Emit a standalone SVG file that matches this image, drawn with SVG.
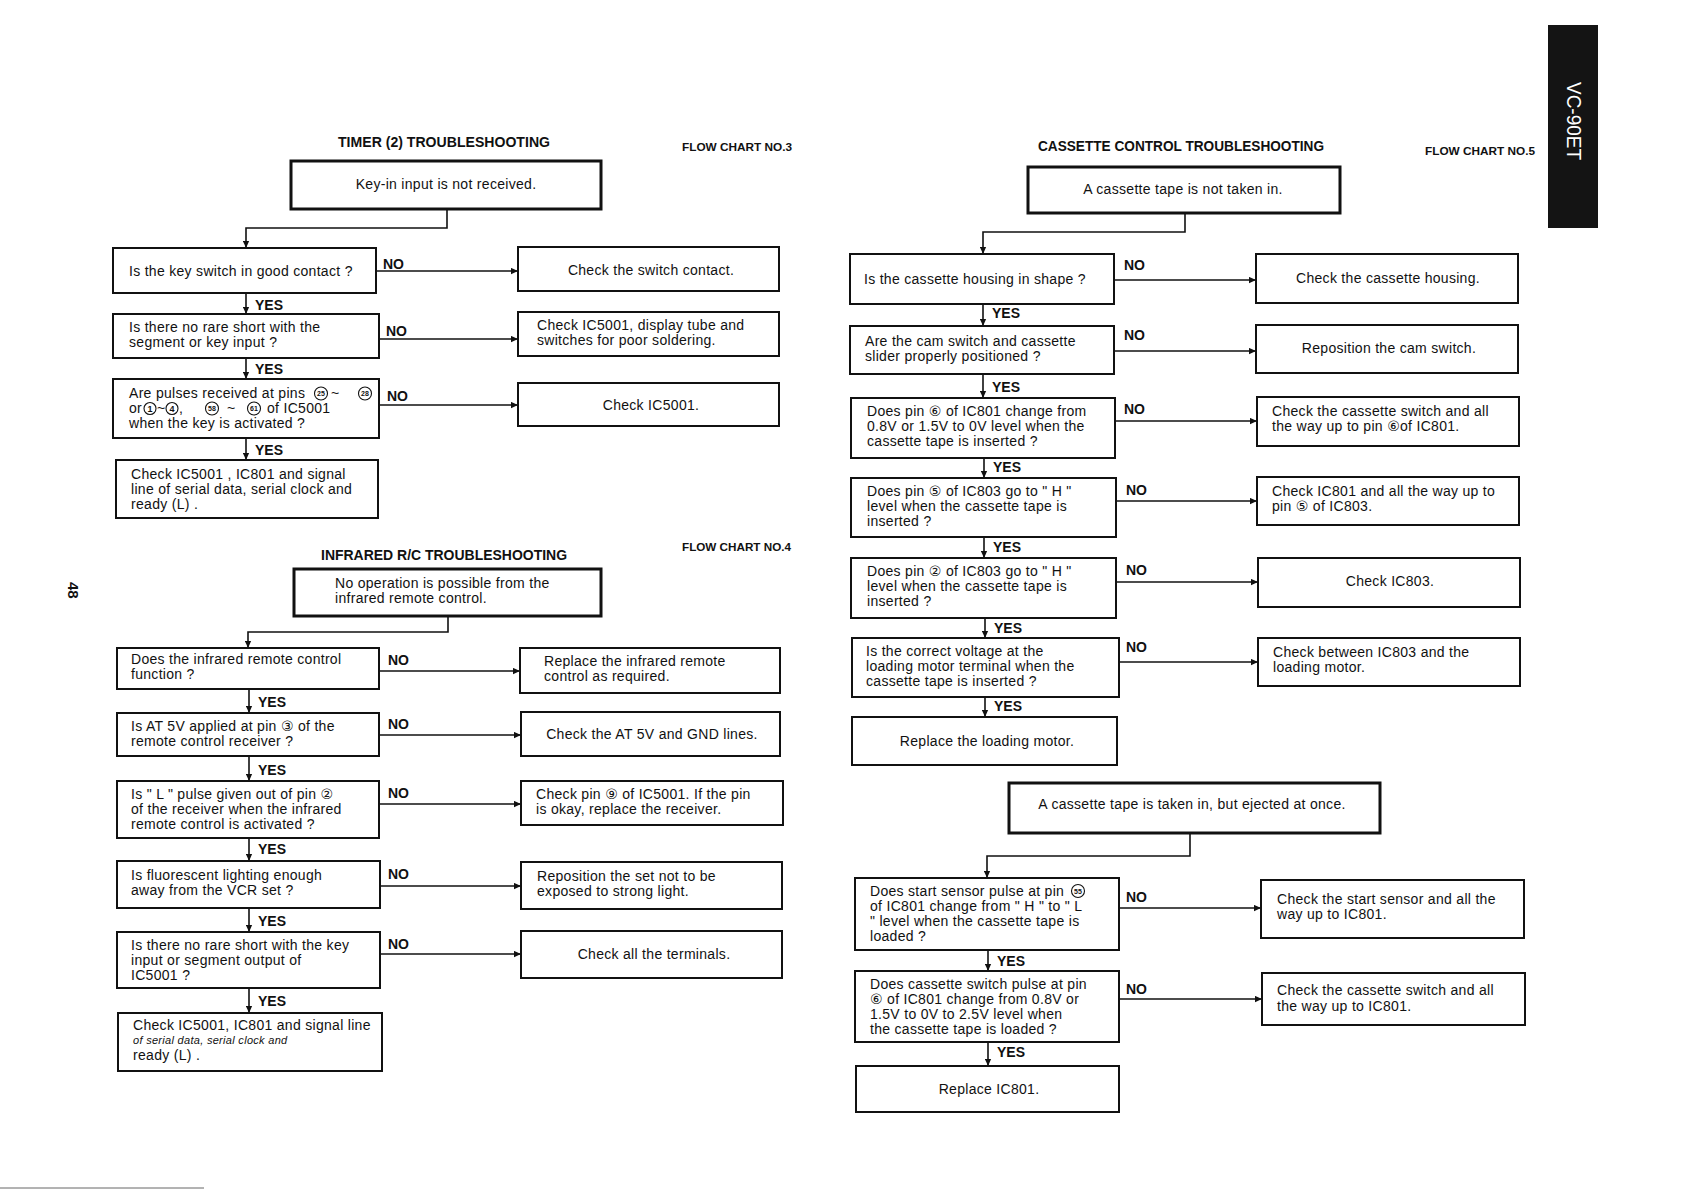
<svg xmlns="http://www.w3.org/2000/svg" width="1683" height="1191" viewBox="0 0 1683 1191">
<style>
.box{fill:#fff;stroke:#111;stroke-width:2}
.start{fill:#fff;stroke:#111;stroke-width:3}
.t{font-family:"Liberation Sans","DejaVu Sans","Noto Sans CJK JP",sans-serif;font-size:14px;letter-spacing:0.3px;fill:#111}
.m{text-anchor:middle}
.lbl{font-family:"Liberation Sans",sans-serif;font-size:14px;font-weight:bold;fill:#111}
.title{font-family:"Liberation Sans",sans-serif;font-size:15px;font-weight:bold;fill:#111;text-anchor:middle}
.fc{font-family:"Liberation Sans",sans-serif;font-size:11px;font-weight:bold;fill:#111}
.conn{fill:none;stroke:#111;stroke-width:1.6}
.circ{fill:none;stroke:#111;stroke-width:1.1}
.cn{font-family:"Liberation Sans",sans-serif;font-size:7px;font-weight:bold;fill:#111;text-anchor:middle}
.cn1{font-family:"Liberation Sans",sans-serif;font-size:9px;font-weight:bold;fill:#111;text-anchor:middle}
</style>
<defs>
<marker id="ah" viewBox="0 0 10 10" refX="10" refY="5" markerWidth="9" markerHeight="7" markerUnits="userSpaceOnUse" orient="auto">
<path d="M0,0.5 L10,5 L0,9.5 z" fill="#111"/>
</marker>
</defs>
<rect x="0" y="0" width="1683" height="1191" fill="#fff"/>

<!-- ===== Headings ===== -->
<g id="headings">
<text class="title" x="444" y="147" textLength="212" lengthAdjust="spacingAndGlyphs">TIMER (2) TROUBLESHOOTING</text>
<text class="fc" x="682" y="151" textLength="110" lengthAdjust="spacingAndGlyphs">FLOW CHART NO.3</text>
<text class="title" x="444" y="560" textLength="246" lengthAdjust="spacingAndGlyphs">INFRARED  R/C  TROUBLESHOOTING</text>
<text class="fc" x="682" y="551" textLength="109" lengthAdjust="spacingAndGlyphs">FLOW CHART NO.4</text>
<text class="title" x="1181" y="151" textLength="286" lengthAdjust="spacingAndGlyphs">CASSETTE  CONTROL  TROUBLESHOOTING</text>
<text class="fc" x="1425" y="155" textLength="110" lengthAdjust="spacingAndGlyphs">FLOW CHART NO.5</text>
</g>

<g id="tab">
<rect x="1548" y="25" width="50" height="203" fill="#141414"/>
<text x="1567" y="82" transform="rotate(90 1567 82)" font-family="Liberation Sans, sans-serif" font-size="21" fill="#fff" textLength="78" lengthAdjust="spacingAndGlyphs">VC-90ET</text>
</g>
<g id="page-number">
<text x="68" y="582" transform="rotate(90 68 582)" font-family="Liberation Sans, sans-serif" font-size="15" font-weight="bold" fill="#111">48</text>
</g>
<line x1="0" y1="1188" x2="204" y2="1188" stroke="#666" stroke-width="1"/>

<!-- ===== Connectors ===== -->
<g id="connectors">
<!-- chart 3 -->
<path class="conn" d="M447,209 V228 H246 V248" marker-end="url(#ah)"/>
<path class="conn" d="M376,271 H518" marker-end="url(#ah)"/>
<path class="conn" d="M246,293 V314" marker-end="url(#ah)"/>
<path class="conn" d="M379,339 H518" marker-end="url(#ah)"/>
<path class="conn" d="M246,358 V379" marker-end="url(#ah)"/>
<path class="conn" d="M379,405 H518" marker-end="url(#ah)"/>
<path class="conn" d="M246,438 V460" marker-end="url(#ah)"/>
<text class="lbl" x="383" y="269">NO</text>
<text class="lbl" x="386" y="336">NO</text>
<text class="lbl" x="387" y="401">NO</text>
<text class="lbl" x="255" y="310">YES</text>
<text class="lbl" x="255" y="374">YES</text>
<text class="lbl" x="255" y="455">YES</text>
<!-- chart 4 -->
<path class="conn" d="M448,616 V632 H248 V648" marker-end="url(#ah)"/>
<path class="conn" d="M379,671 H520" marker-end="url(#ah)"/>
<path class="conn" d="M249,689 V713" marker-end="url(#ah)"/>
<path class="conn" d="M379,735 H521" marker-end="url(#ah)"/>
<path class="conn" d="M249,756 V781" marker-end="url(#ah)"/>
<path class="conn" d="M379,804 H521" marker-end="url(#ah)"/>
<path class="conn" d="M249,838 V861" marker-end="url(#ah)"/>
<path class="conn" d="M380,886 H521" marker-end="url(#ah)"/>
<path class="conn" d="M249,908 V932" marker-end="url(#ah)"/>
<path class="conn" d="M380,954 H521" marker-end="url(#ah)"/>
<path class="conn" d="M249,988 V1013" marker-end="url(#ah)"/>
<text class="lbl" x="388" y="665">NO</text>
<text class="lbl" x="388" y="729">NO</text>
<text class="lbl" x="388" y="798">NO</text>
<text class="lbl" x="388" y="879">NO</text>
<text class="lbl" x="388" y="949">NO</text>
<text class="lbl" x="258" y="707">YES</text>
<text class="lbl" x="258" y="775">YES</text>
<text class="lbl" x="258" y="854">YES</text>
<text class="lbl" x="258" y="926">YES</text>
<text class="lbl" x="258" y="1006">YES</text>
<!-- chart 5 -->
<path class="conn" d="M1185,213 V232 H983 V254" marker-end="url(#ah)"/>
<path class="conn" d="M1114,280 H1256" marker-end="url(#ah)"/>
<path class="conn" d="M983,304 V326" marker-end="url(#ah)"/>
<path class="conn" d="M1114,351 H1256" marker-end="url(#ah)"/>
<path class="conn" d="M983,374 V398" marker-end="url(#ah)"/>
<path class="conn" d="M1115,421 H1257" marker-end="url(#ah)"/>
<path class="conn" d="M984,458 V478" marker-end="url(#ah)"/>
<path class="conn" d="M1116,501 H1257" marker-end="url(#ah)"/>
<path class="conn" d="M984,537 V558" marker-end="url(#ah)"/>
<path class="conn" d="M1116,582 H1258" marker-end="url(#ah)"/>
<path class="conn" d="M985,618 V638" marker-end="url(#ah)"/>
<path class="conn" d="M1119,662 H1258" marker-end="url(#ah)"/>
<path class="conn" d="M985,697 V717" marker-end="url(#ah)"/>
<text class="lbl" x="1124" y="270">NO</text>
<text class="lbl" x="1124" y="340">NO</text>
<text class="lbl" x="1124" y="414">NO</text>
<text class="lbl" x="1126" y="495">NO</text>
<text class="lbl" x="1126" y="575">NO</text>
<text class="lbl" x="1126" y="652">NO</text>
<text class="lbl" x="992" y="318">YES</text>
<text class="lbl" x="992" y="392">YES</text>
<text class="lbl" x="993" y="472">YES</text>
<text class="lbl" x="993" y="552">YES</text>
<text class="lbl" x="994" y="633">YES</text>
<text class="lbl" x="994" y="711">YES</text>
<!-- chart 5 bottom -->
<path class="conn" d="M1190,833 V856 H987 V878" marker-end="url(#ah)"/>
<path class="conn" d="M1119,908 H1261" marker-end="url(#ah)"/>
<path class="conn" d="M988,950 V971" marker-end="url(#ah)"/>
<path class="conn" d="M1119,999 H1262" marker-end="url(#ah)"/>
<path class="conn" d="M988,1042 V1066" marker-end="url(#ah)"/>
<text class="lbl" x="1126" y="902">NO</text>
<text class="lbl" x="1126" y="994">NO</text>
<text class="lbl" x="997" y="966">YES</text>
<text class="lbl" x="997" y="1057">YES</text>
</g>

<!-- ===== Chart 3 nodes ===== -->
<g id="t-start">
<rect class="start" x="291" y="161" width="310" height="48"/>
<text class="t m" x="446" y="189">Key-in  input is not received.</text>
</g>
<g id="t-q1">
<rect class="box" x="113" y="248" width="263" height="45"/>
<text class="t" x="129" y="276">Is  the key switch in good contact ?</text>
</g>
<g id="t-a1">
<rect class="box" x="518" y="247" width="261" height="44"/>
<text class="t m" x="651" y="275">Check  the switch contact.</text>
</g>
<g id="t-q2">
<rect class="box" x="113" y="314" width="266" height="44"/>
<text class="t"><tspan x="129" y="332">Is there no rare short with the</tspan><tspan x="129" y="347">segment or key input  ?</tspan></text>
</g>
<g id="t-a2">
<rect class="box" x="518" y="312" width="261" height="44"/>
<text class="t"><tspan x="537" y="330">Check   IC5001, display tube and</tspan><tspan x="537" y="345">switches for poor soldering.</tspan></text>
</g>
<g id="t-q3">
<rect class="box" x="113" y="379" width="266" height="59"/>
<text class="t" x="129" y="398">Are pulses received at pins</text>
<circle class="circ" cx="321" cy="393.5" r="6.5"/><text class="cn" x="321" y="396">25</text>
<text class="t" x="331" y="398">~</text>
<circle class="circ" cx="365" cy="393.5" r="6.5"/><text class="cn" x="365" y="396">28</text>
<text class="t" x="129" y="413">or</text>
<circle class="circ" cx="150" cy="408.5" r="6"/><text class="cn1" x="150" y="411.7">1</text>
<text class="t" x="157" y="413">~</text>
<circle class="circ" cx="172" cy="408.5" r="6"/><text class="cn1" x="172" y="411.7">4</text>
<text class="t" x="179" y="413">,</text>
<circle class="circ" cx="212" cy="408.5" r="6.5"/><text class="cn" x="212" y="411">58</text>
<text class="t" x="227" y="413">~</text>
<circle class="circ" cx="254" cy="408.5" r="6.5"/><text class="cn" x="254" y="411">61</text>
<text class="t" x="267" y="413">of  IC5001</text>
<text class="t" x="129" y="428">when the key is activated ?</text>
</g>
<g id="t-a3">
<rect class="box" x="518" y="383" width="261" height="43"/>
<text class="t m" x="651" y="410">Check  IC5001.</text>
</g>
<g id="t-end">
<rect class="box" x="116" y="460" width="262" height="58"/>
<text class="t"><tspan x="131" y="479">Check IC5001 , IC801 and signal</tspan><tspan x="131" y="494">line of serial data, serial clock and</tspan><tspan x="131" y="509">ready  (L) .</tspan></text>
</g>

<!-- ===== Chart 4 nodes ===== -->
<g id="i-start">
<rect class="start" x="294" y="569" width="307" height="47"/>
<text class="t"><tspan x="335" y="588">No operation is possible from the</tspan><tspan x="335" y="603">infrared  remote control.</tspan></text>
</g>
<g id="i-q1">
<rect class="box" x="117" y="648" width="262" height="41"/>
<text class="t"><tspan x="131" y="664">Does the infrared remote control</tspan><tspan x="131" y="679">function ?</tspan></text>
</g>
<g id="i-a1">
<rect class="box" x="520" y="648" width="260" height="45"/>
<text class="t"><tspan x="544" y="666">Replace the infrared remote</tspan><tspan x="544" y="681">control as required.</tspan></text>
</g>
<g id="i-q2">
<rect class="box" x="117" y="713" width="262" height="43"/>
<text class="t"><tspan x="131" y="731">Is  AT 5V applied at pin ③ of the</tspan><tspan x="131" y="746">remote control receiver ?</tspan></text>
</g>
<g id="i-a2">
<rect class="box" x="521" y="712" width="259" height="44"/>
<text class="t m" x="652" y="739">Check  the  AT 5V  and  GND  lines.</text>
</g>
<g id="i-q3">
<rect class="box" x="117" y="781" width="262" height="57"/>
<text class="t"><tspan x="131" y="799">Is " L " pulse given out of pin  ②</tspan><tspan x="131" y="814">of the receiver when the infrared</tspan><tspan x="131" y="829">remote control is activated ?</tspan></text>
</g>
<g id="i-a3">
<rect class="box" x="521" y="781" width="262" height="44"/>
<text class="t"><tspan x="536" y="799">Check pin ⑨ of  IC5001.  If the pin</tspan><tspan x="536" y="814">is okay, replace the receiver.</tspan></text>
</g>
<g id="i-q4">
<rect class="box" x="117" y="861" width="263" height="47"/>
<text class="t"><tspan x="131" y="880">Is fluorescent  lighting enough</tspan><tspan x="131" y="895">away from the VCR set ?</tspan></text>
</g>
<g id="i-a4">
<rect class="box" x="521" y="862" width="261" height="47"/>
<text class="t"><tspan x="537" y="881">Reposition the set not to be</tspan><tspan x="537" y="896">exposed to strong light.</tspan></text>
</g>
<g id="i-q5">
<rect class="box" x="117" y="932" width="263" height="56"/>
<text class="t"><tspan x="131" y="950">Is there no rare short with the key</tspan><tspan x="131" y="965">input or segment output of</tspan><tspan x="131" y="980">IC5001  ?</tspan></text>
</g>
<g id="i-a5">
<rect class="box" x="521" y="931" width="261" height="47"/>
<text class="t m" x="654" y="959">Check  all  the  terminals.</text>
</g>
<g id="i-end">
<rect class="box" x="118" y="1013" width="264" height="58"/>
<text class="t"><tspan x="133" y="1030">Check IC5001, IC801 and signal line</tspan><tspan x="133" y="1044" font-size="11" font-style="italic">of serial data, serial clock and</tspan><tspan x="133" y="1060">ready (L) .</tspan></text>
</g>

<!-- ===== Chart 5 nodes ===== -->
<g id="c-start">
<rect class="start" x="1028" y="167" width="312" height="46"/>
<text class="t m" x="1183" y="194">A cassette  tape  is not  taken  in.</text>
</g>
<g id="c-q1">
<rect class="box" x="850" y="254" width="264" height="50"/>
<text class="t" x="864" y="284">Is  the  cassette  housing  in  shape ?</text>
</g>
<g id="c-a1">
<rect class="box" x="1256" y="254" width="262" height="49"/>
<text class="t m" x="1388" y="283">Check  the  cassette  housing.</text>
</g>
<g id="c-q2">
<rect class="box" x="850" y="326" width="264" height="48"/>
<text class="t"><tspan x="865" y="346">Are the cam switch and cassette</tspan><tspan x="865" y="361">slider properly positioned ?</tspan></text>
</g>
<g id="c-a2">
<rect class="box" x="1256" y="325" width="262" height="48"/>
<text class="t m" x="1389" y="353">Reposition  the  cam  switch.</text>
</g>
<g id="c-q3">
<rect class="box" x="851" y="398" width="264" height="60"/>
<text class="t"><tspan x="867" y="416">Does pin  ⑥ of IC801 change from</tspan><tspan x="867" y="431">0.8V or 1.5V  to 0V level when the</tspan><tspan x="867" y="446">cassette tape is inserted ?</tspan></text>
</g>
<g id="c-a3">
<rect class="box" x="1257" y="397" width="262" height="49"/>
<text class="t"><tspan x="1272" y="416">Check the cassette switch and all</tspan><tspan x="1272" y="431">the way up to pin ⑥of  IC801.</tspan></text>
</g>
<g id="c-q4">
<rect class="box" x="851" y="478" width="265" height="59"/>
<text class="t"><tspan x="867" y="496">Does pin  ⑤ of  IC803  go  to  " H "</tspan><tspan x="867" y="511">level  when the cassette tape is</tspan><tspan x="867" y="526">inserted ?</tspan></text>
</g>
<g id="c-a4">
<rect class="box" x="1257" y="477" width="262" height="48"/>
<text class="t"><tspan x="1272" y="496">Check  IC801 and all the way up to</tspan><tspan x="1272" y="511">pin  ⑤  of  IC803.</tspan></text>
</g>
<g id="c-q5">
<rect class="box" x="851" y="558" width="265" height="60"/>
<text class="t"><tspan x="867" y="576">Does pin ② of  IC803  go  to  " H "</tspan><tspan x="867" y="591">level when the cassette tape is</tspan><tspan x="867" y="606">inserted ?</tspan></text>
</g>
<g id="c-a5">
<rect class="box" x="1258" y="558" width="262" height="49"/>
<text class="t m" x="1390" y="586">Check  IC803.</text>
</g>
<g id="c-q6">
<rect class="box" x="852" y="638" width="267" height="59"/>
<text class="t"><tspan x="866" y="656">Is the correct  voltage at the</tspan><tspan x="866" y="671">loading motor terminal when the</tspan><tspan x="866" y="686">cassette tape is inserted ?</tspan></text>
</g>
<g id="c-a6">
<rect class="box" x="1258" y="638" width="262" height="48"/>
<text class="t"><tspan x="1273" y="657">Check between IC803 and the</tspan><tspan x="1273" y="672">loading motor.</tspan></text>
</g>
<g id="c-end">
<rect class="box" x="852" y="717" width="265" height="48"/>
<text class="t m" x="987" y="746">Replace  the  loading  motor.</text>
</g>

<!-- ===== Chart 5 bottom nodes ===== -->
<g id="e-start">
<rect class="start" x="1009" y="783" width="371" height="50"/>
<text class="t m" x="1192" y="809">A cassette  tape  is taken  in,  but  ejected  at once.</text>
</g>
<g id="e-q1">
<rect class="box" x="855" y="878" width="264" height="72"/>
<text class="t"><tspan x="870" y="896">Does start sensor pulse at pin</tspan><tspan x="870" y="911">of  IC801 change from  " H "  to  " L</tspan><tspan x="870" y="926">"  level when the cassette tape is</tspan><tspan x="870" y="941">loaded ?</tspan></text>
<circle class="circ" cx="1078" cy="891" r="6.5"/><text class="cn" x="1078" y="893.5">55</text>
</g>
<g id="e-a1">
<rect class="box" x="1261" y="880" width="263" height="58"/>
<text class="t"><tspan x="1277" y="904">Check the start sensor and  all  the</tspan><tspan x="1277" y="919">way up  to  IC801.</tspan></text>
</g>
<g id="e-q2">
<rect class="box" x="855" y="971" width="264" height="71"/>
<text class="t"><tspan x="870" y="989">Does cassette switch pulse at pin</tspan><tspan x="870" y="1004">⑥ of IC801 change from 0.8V or</tspan><tspan x="870" y="1019">1.5V  to  0V  to  2.5V  level when</tspan><tspan x="870" y="1034">the cassette tape is loaded ?</tspan></text>
</g>
<g id="e-a2">
<rect class="box" x="1262" y="973" width="263" height="52"/>
<text class="t"><tspan x="1277" y="995">Check the cassette switch and all</tspan><tspan x="1277" y="1011">the way up  to  IC801.</tspan></text>
</g>
<g id="e-end">
<rect class="box" x="856" y="1066" width="263" height="46"/>
<text class="t m" x="989" y="1094">Replace  IC801.</text>
</g>
</svg>
